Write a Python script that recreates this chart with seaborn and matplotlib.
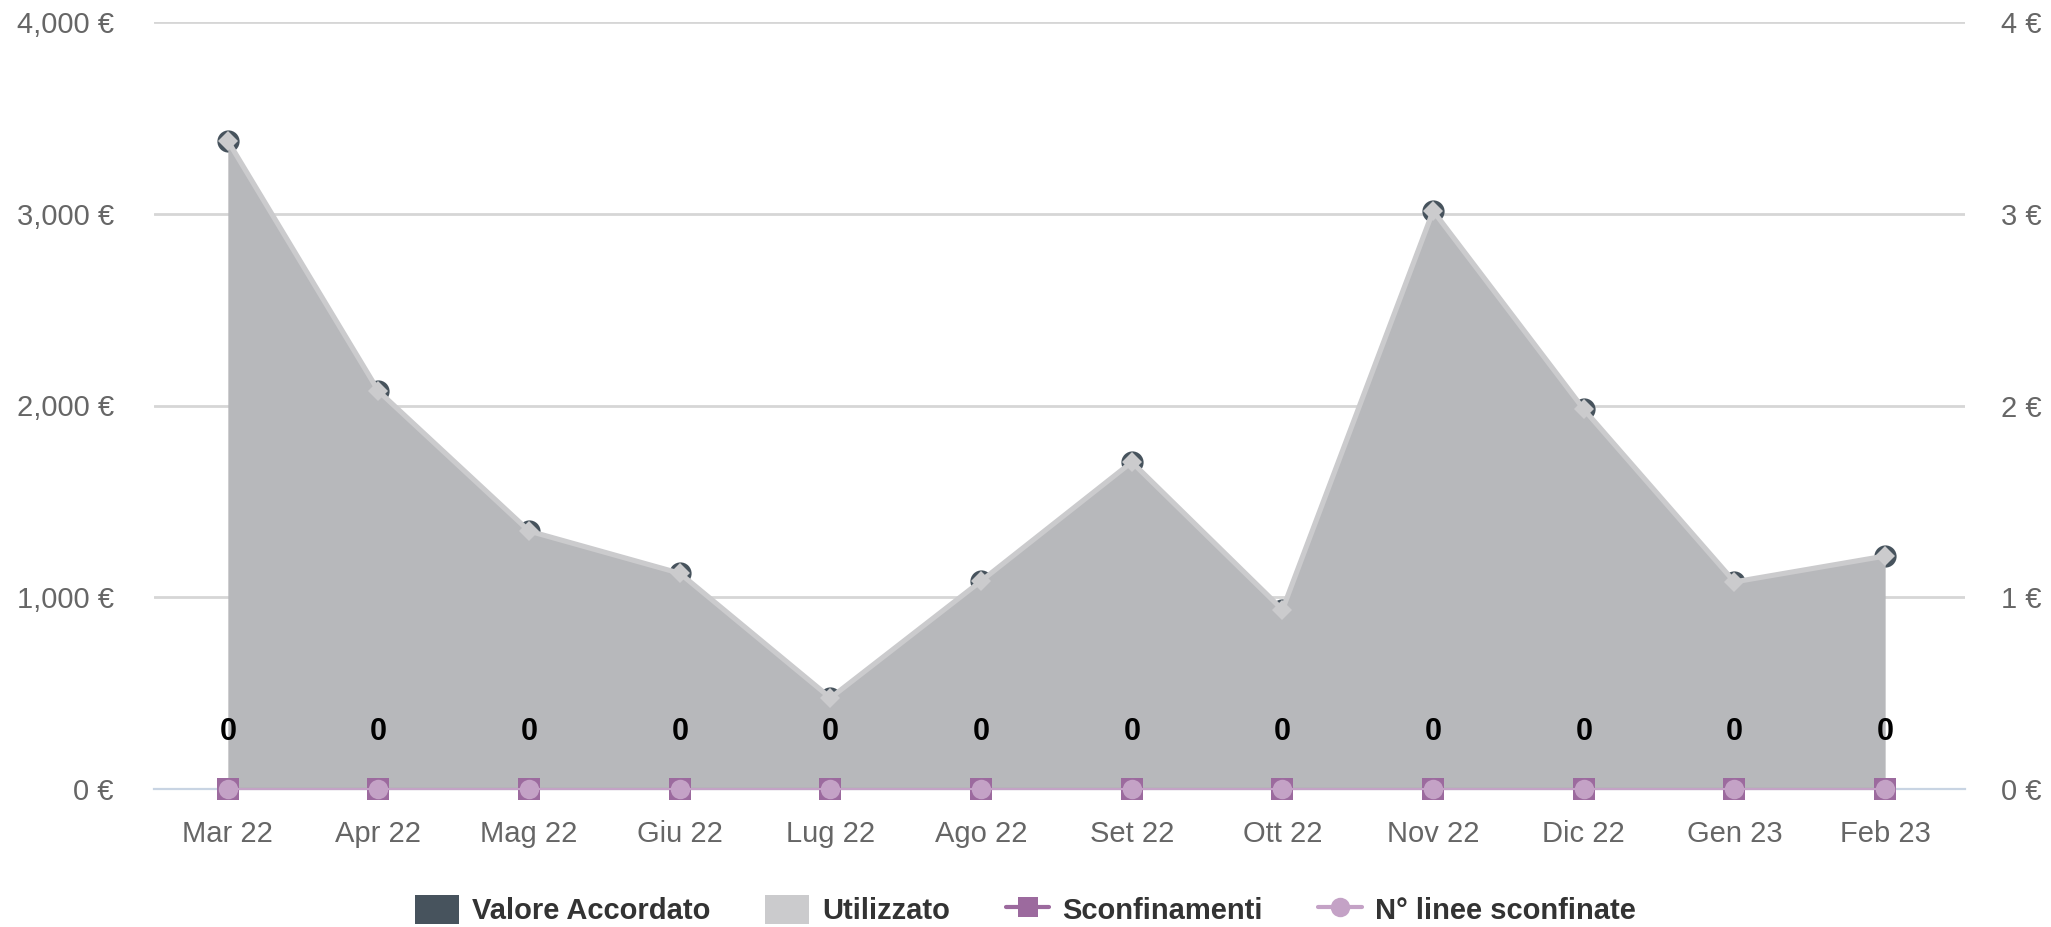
import matplotlib
matplotlib.use("Agg")
import matplotlib.pyplot as plt
import seaborn as sns
import numpy as np
from matplotlib.lines import Line2D
from matplotlib.patches import Patch
from matplotlib.ticker import FuncFormatter, FixedLocator

# ---- data ----
months = ["Mar 22", "Apr 22", "Mag 22", "Giu 22", "Lug 22", "Ago 22",
          "Set 22", "Ott 22", "Nov 22", "Dic 22", "Gen 23", "Feb 23"]
valore_accordato = [3380, 2075, 1345, 1125, 475, 1085, 1705, 935, 3015, 1980, 1080, 1215]
utilizzato = [3380, 2075, 1345, 1125, 475, 1085, 1705, 935, 3015, 1980, 1080, 1215]
sconfinamenti = [0, 0, 0, 0, 0, 0, 0, 0, 0, 0, 0, 0]
linee_sconfinate = [0, 0, 0, 0, 0, 0, 0, 0, 0, 0, 0, 0]
left_ticks = [0, 1000, 2000, 3000, 4000]
right_ticks = [0, 1, 2, 3, 4]

C_DARK = "#47535d"
C_LIGHT = "#cbcbcd"
C_AREA = "#b7b8bb"
C_SCONF = "#9c6a9e"
C_LINEE = "#c4a2c6"
C_AXIS = "#c8d4e3"
C_GRID = "#d6d6d6"
C_TXT = "#666666"

sns.set_theme(style="white")
plt.rcParams["font.family"] = ["Liberation Sans", "DejaVu Sans"]

fig = plt.figure(figsize=(20.51, 9.27), dpi=100)
ax = fig.add_axes([154/2051, 1-789/927, (1965-154)/2051, (789-22)/927])
x = np.arange(len(months))

# grid
for t in left_ticks[1:]:
    ax.axhline(t, color=C_GRID, lw=2.0, zorder=0)

# Valore Accordato circles (under area)
sns.lineplot(x=x, y=valore_accordato, ax=ax, color=C_DARK, linestyle="none",
             marker="o", markersize=16, markeredgewidth=0, zorder=2, clip_on=False)
# Utilizzato area
ax.fill_between(x, 0, utilizzato, color=C_AREA, lw=0, zorder=3)
sns.lineplot(x=x, y=utilizzato, ax=ax, color=C_LIGHT, lw=3.7, marker="D",
             markersize=10, markeredgewidth=0, markerfacecolor=C_LIGHT, zorder=4, clip_on=False)

ax.set_xlim(-0.49, 11.53)
ax.set_ylim(0, 4000)
ax.yaxis.set_major_locator(FixedLocator(left_ticks))
ax.yaxis.set_major_formatter(FuncFormatter(lambda v, p: f"{int(v):,} €"))
ax.set_xticks(x)
ax.set_xticklabels(months)
for s in ["top", "right", "left"]:
    ax.spines[s].set_visible(False)
ax.spines["bottom"].set_color(C_AXIS)
ax.spines["bottom"].set_linewidth(1.6)
ax.spines["bottom"].set_zorder(1)
ax.tick_params(axis="x", length=18, width=1.5, color=C_AXIS, pad=4,
               labelsize=21, labelcolor=C_TXT, direction="out")
ax.tick_params(axis="y", length=0, pad=29, labelsize=21, labelcolor=C_TXT)
ax.set_xlabel("")
ax.set_ylabel("")
ax.grid(False)

# secondary axis
ax2 = ax.twinx()
ax2.set_ylim(0, 4)
ax2.yaxis.set_major_locator(FixedLocator(right_ticks))
ax2.yaxis.set_major_formatter(FuncFormatter(lambda v, p: f"{int(v)} €"))
for s in ["top", "right", "left", "bottom"]:
    ax2.spines[s].set_visible(False)
ax2.tick_params(axis="y", length=0, pad=26, labelsize=21, labelcolor=C_TXT)
ax2.grid(False)

sns.lineplot(x=x, y=sconfinamenti, ax=ax2, color=C_SCONF, lw=1.5, marker="s",
             markersize=15.5, markeredgewidth=0, zorder=5, clip_on=False)
sns.lineplot(x=x, y=linee_sconfinate, ax=ax2, color=C_LINEE, lw=1.5, marker="o",
             markersize=14, markeredgewidth=0, zorder=6, clip_on=False)
ax2.set_ylabel("")
for xi, v in zip(x, linee_sconfinate):
    ax2.annotate(f"{v}", (xi, v), xytext=(0, 41), textcoords="offset points",
                 ha="center", va="center", fontsize=22, fontweight="bold",
                 color="black", zorder=7)

# legend
handles = [
    Patch(facecolor=C_DARK, edgecolor="none", label="Valore Accordato"),
    Patch(facecolor=C_LIGHT, edgecolor="none", label="Utilizzato"),
    Line2D([0], [0], color=C_SCONF, lw=3, marker="s", markersize=14, markeredgewidth=0,
           label="Sconfinamenti"),
    Line2D([0], [0], color=C_LINEE, lw=3, marker="o", markersize=14, markeredgewidth=0,
           label="N° linee sconfinate"),
]
fig.legend(handles=handles, loc="center", bbox_to_anchor=(0.5, 1-910/927), ncol=4,
           frameon=False, prop={"weight": "bold", "size": 21}, labelcolor="#333333",
           handlelength=1.5, handleheight=1.15, handletextpad=0.45, columnspacing=1.9)

fig.savefig("out.png", dpi=100)
